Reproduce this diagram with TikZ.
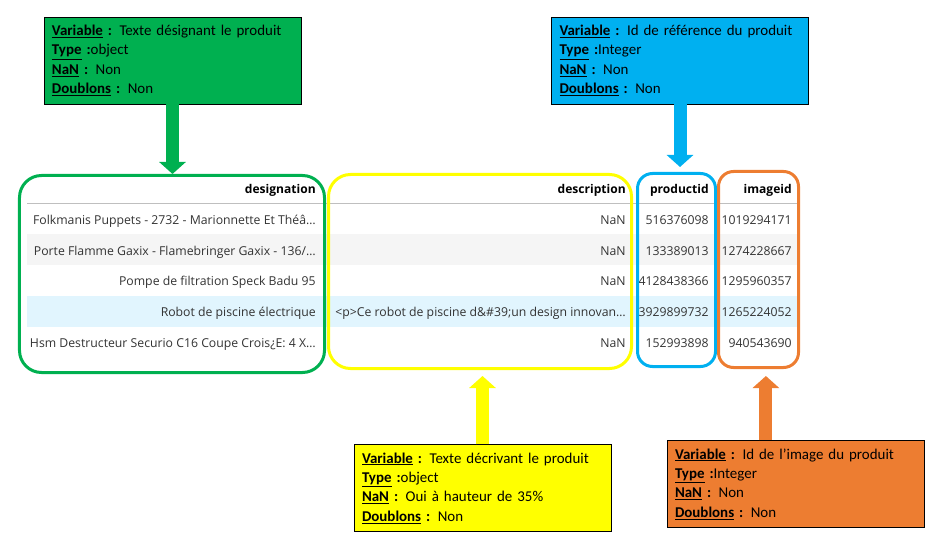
\documentclass[tikz,border=0pt]{standalone}
\usepackage{fontspec}
\setmainfont{Carlito}
\newfontfamily\tabfont{Open Sans}
\usetikzlibrary{arrows.meta,positioning,calc}

\definecolor{vgreen}{HTML}{00B050}
\definecolor{vblue}{HTML}{00B0F0}
\definecolor{vyellow}{HTML}{FFFF00}
\definecolor{vorange}{HTML}{ED7D31}
\definecolor{rowgray}{HTML}{F5F5F5}
\definecolor{rowblue}{HTML}{E1F5FE}
\definecolor{celltext}{HTML}{333333}
\newcommand{\lab}[1]{\underline{\textbf{#1}}}

\begin{document}
\begin{tikzpicture}[x=1bp, y=-1bp, semithick,
	cell/.style={anchor=base east, inner sep=0pt, text=celltext, font=\tabfont\fontsize{12.3}{14}\selectfont},
	head/.style={cell, text=black, font=\tabfont\bfseries\fontsize{12.1}{14}\selectfont},
	info/.style={draw=black, thin, text width=241bp, inner xsep=8bp, inner ysep=0pt, minimum height=87bp, align=left, font=\fontsize{15}{19.5}\selectfont},
	frame/.style={draw, inner sep=0pt, line width=3bp, rounded corners=22bp},
	pointer/.style={line width=13bp, -{Triangle[width=26bp,length=12bp]}}]
	\useasboundingbox (0,0) rectangle (947,548);

	% table rows
	\fill[rowgray] (27,234) rectangle (797,265);
	\fill[rowblue] (27,296) rectangle (797,327);
	\draw[black!25, thin] (27,203) -- (797,203);

	\node[head] (hd) at (316,194) {designation};
	\node[head] (he) at (626,194) {description};
	\node[head] (hp) at (709,194) {productid};
	\node[head] (hi) at (792,194) {imageid};

	\node[cell] (d1) at (316,225) {Folkmanis Puppets - 2732 - Marionnette Et Théâ…};
	\node[cell] (e1) at (626,225) {NaN};
	\node[cell] (p1) at (709,225) {516376098};
	\node[cell] (i1) at (792,225) {1019294171};

	\node[cell] (d2) at (316,256) {Porte Flamme Gaxix - Flamebringer Gaxix - 136/…};
	\node[cell] (e2) at (626,256) {NaN};
	\node[cell] (p2) at (709,256) {133389013};
	\node[cell] (i2) at (792,256) {1274228667};

	\node[cell] (d3) at (316,286) {Pompe de filtration Speck Badu 95};
	\node[cell] (e3) at (626,286) {NaN};
	\node[cell] (p3) at (709,286) {4128438366};
	\node[cell] (i3) at (792,286) {1295960357};

	\node[cell] (d4) at (316,317) {Robot de piscine électrique};
	\node[cell] (e4) at (626,317) {<p>Ce robot de piscine d\&\#39;un design innovan…};
	\node[cell] (p4) at (709,317) {3929899732};
	\node[cell] (i4) at (792,317) {1265224052};

	\node[cell] (d5) at (316,348) {Hsm Destructeur Securio C16 Coupe Crois¿E: 4 X…};
	\node[cell] (e5) at (626,348) {NaN};
	\node[cell] (p5) at (709,348) {152993898};
	\node[cell] (i5) at (792,348) {940543690};

	% column frames
	\node[frame, vgreen, minimum width=305bp, minimum height=197bp] (fdes) at (172,274) {};
	\node[frame, vyellow, minimum width=303bp, minimum height=194bp] (fdesc) at (480,271.5) {};
	\node[frame, vblue, rounded corners=15bp, minimum width=78bp, minimum height=193bp] (fpid) at (676.5,270) {};
	\node[frame, vorange, rounded corners=15bp, minimum width=80bp, minimum height=196bp] (fimg) at (758.5,269.5) {};

	% variable boxes
	\node[info, fill=vgreen] (vdes) at (172.5,60.5) {\lab{Variable} \textbf{:} Texte désignant le produit\\
		\lab{Type} \textbf{:}object\\ \lab{NaN} \textbf{:} Non\\ \lab{Doublons} \textbf{:} Non};
	\node[info, fill=vblue] (vpid) at (680,60.5) {\lab{Variable} \textbf{:} Id de référence du produit\\
		\lab{Type} \textbf{:}Integer\\ \lab{NaN} \textbf{:} Non\\ \lab{Doublons} \textbf{:} Non};
	\node[info, fill=vyellow] (vdesc) at (482.5,488) {\lab{Variable} \textbf{:} Texte décrivant le produit\\
		\lab{Type} \textbf{:}object\\ \lab{NaN} \textbf{:} Oui à hauteur de 35\%\\ \lab{Doublons} \textbf{:} Non};
	\node[info, fill=vorange] (vimg) at (795.5,484) {\lab{Variable} \textbf{:} Id de l’image du produit\\
		\lab{Type} \textbf{:}Integer\\ \lab{NaN} \textbf{:} Non\\ \lab{Doublons} \textbf{:} Non};
	\coordinate (oimg) at ($(vimg.north west)!0.385!(vimg.north east)$);

	% arrows from the boxes to the columns
	\draw[pointer, vgreen] (vdes.south) -- (vdes.south |- fdes.north);
	\draw[pointer, vblue, shorten >=5bp] (vpid.south) -- (vpid.south |- fpid.north);
	\draw[pointer, vyellow, shorten >=6bp] (vdesc.north) -- (vdesc.north |- fdesc.south);
	\draw[pointer, vorange, shorten >=7bp] (oimg) -- (oimg |- fimg.south);
\end{tikzpicture}
\end{document}
